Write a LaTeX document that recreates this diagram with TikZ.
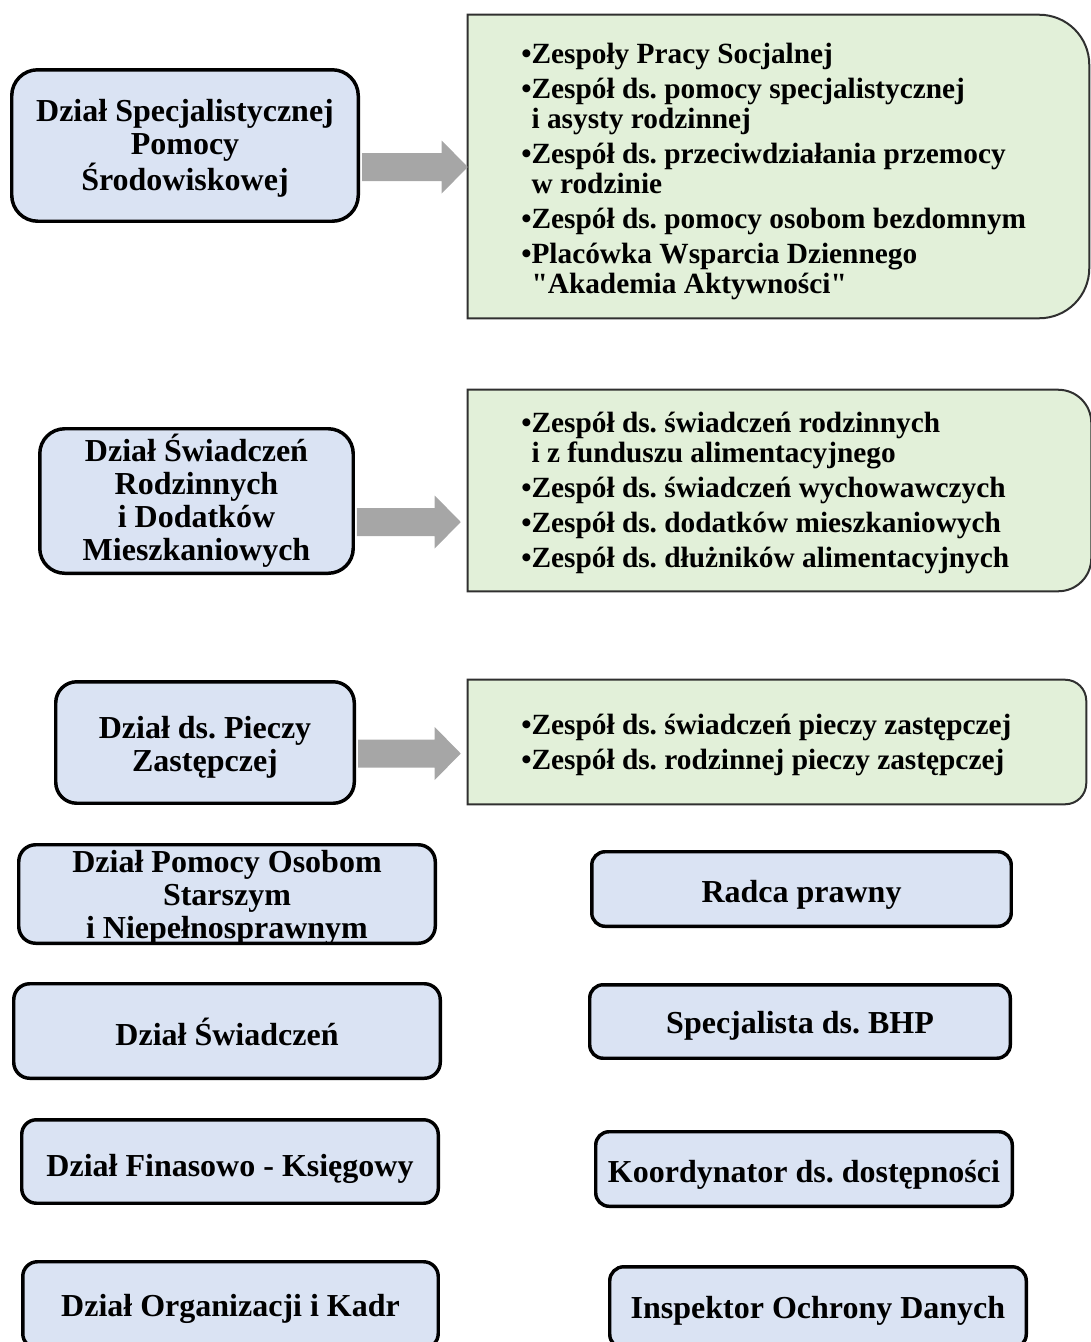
\documentclass[tikz,border=0pt]{standalone}
\usepackage{fontspec}
\setmainfont{Liberation Serif}
\usetikzlibrary{calc}
\definecolor{boxblue}{HTML}{DAE3F3}
\definecolor{boxgreen}{HTML}{E2F0D9}
\definecolor{arrowgray}{HTML}{A6A6A6}
\definecolor{greenline}{HTML}{303030}
\newcommand{\dq}{\XeTeXglyph\XeTeXcharglyph34\relax}
\begin{document}
\frenchspacing
\begin{tikzpicture}[x=0.75pt,y=-0.75pt,
  deptbox/.style={draw=black, line width=2.6pt, fill=boxblue, inner sep=0pt},
  depttext/.style={inner sep=0pt, align=center,
    font=\fontsize{24}{24.75}\selectfont\bfseries\frenchspacing},
  greenarea/.style={draw=none, inner sep=0pt},
  greenframe/.style={draw=greenline, line width=1.5pt, fill=boxgreen},
  listtext/.style={anchor=base west, inner sep=0pt, align=left,
    font=\fontsize{22}{22.5}\selectfont\bfseries\frenchspacing},
  blockarrow/.style={fill=arrowgray}]
\useasboundingbox (0,0) rectangle (1091,1342);

% green areas (frames)
\node[greenarea, minimum width=465.75pt, minimum height=227.25pt] (g1) at (778.5,166.5) {};
\node[greenarea, minimum width=467.25pt, minimum height=150.75pt] (g2) at (779.5,490.5) {};
\node[greenarea, minimum width=463.5pt, minimum height=93pt] (g3) at (777,742) {};

\draw[greenframe] (g1.north west) -- ($(g1.north east)+(-37.5pt,0pt)$)
  arc[start angle=90, end angle=0, radius=37.5pt] -- ($(g1.south east)+(0pt,37.5pt)$)
  arc[start angle=0, end angle=-90, radius=37.5pt] -- (g1.south west) -- cycle;
\draw[greenframe] (g2.north west) -- ($(g2.north east)+(-24.75pt,0pt)$)
  arc[start angle=90, end angle=0, radius=24.75pt] -- ($(g2.south east)+(0pt,24.75pt)$)
  arc[start angle=0, end angle=-90, radius=24.75pt] -- (g2.south west) -- cycle;
\draw[greenframe] (g3.north west) -- ($(g3.north east)+(-15.75pt,0pt)$)
  arc[start angle=90, end angle=0, radius=15.75pt] -- ($(g3.south east)+(0pt,15.75pt)$)
  arc[start angle=0, end angle=-90, radius=15.75pt] -- (g3.south west) -- cycle;

% list texts (anchored at the baseline of the last line)
\node[listtext] (g1t) at (521,293) {%
•Zespoły Pracy Socjalnej\\[3.75pt]
•Zespół ds. pomocy specjalistycznej\\
\phantom{•}i asysty rodzinnej\\[3.75pt]
•Zespół ds. przeciwdziałania przemocy\\
\phantom{•}w rodzinie\\[3.75pt]
•Zespół ds. pomocy osobom bezdomnym\\[3.75pt]
•Placówka Wsparcia Dziennego\\
\phantom{•}\dq Akademia Aktywności\dq};
\node[listtext] (g2t) at (521,567) {%
•Zespół ds. świadczeń rodzinnych\\
\phantom{•}i z funduszu alimentacyjnego\\[3.75pt]
•Zespół ds. świadczeń wychowawczych\\[3.75pt]
•Zespół ds. dodatków mieszkaniowych\\[3.75pt]
•Zespół ds. dłużników alimentacyjnych};
\node[listtext] (g3t) at (521,769) {%
•Zespół ds. świadczeń pieczy zastępczej\\[3.75pt]
•Zespół ds. rodzinnej pieczy zastępczej};

% left column departments
\node[deptbox, rounded corners=19.5pt, minimum width=259.9pt, minimum height=113.6pt] (b1) at (185,145.5) {};
\node[depttext] (b1t) at ($(b1.center)+(0,3)$) {Dział Specjalistycznej\\Pomocy\\Środowiskowej};
\node[deptbox, rounded corners=18.75pt, minimum width=235.1pt, minimum height=108.4pt] (b2) at (196.5,501) {};
\node[depttext] (b2t) at (b2.center) {Dział Świadczeń\\Rodzinnych\\i Dodatków\\Mieszkaniowych};
\node[deptbox, rounded corners=15.75pt, minimum width=223.9pt, minimum height=91.1pt] (b3) at (205,742.5) {};
\node[depttext] (b3t) at ($(b3.center)+(0,5)$) {Dział ds. Pieczy\\Zastępczej};
\node[deptbox, rounded corners=12.75pt, minimum width=312.4pt, minimum height=73.9pt] (b4) at (227,894) {};
\node[depttext] (b4t) at ($(b4.center)+(0,4)$) {Dział Pomocy Osobom\\Starszym\\i Niepełnosprawnym};
\node[deptbox, rounded corners=12pt, minimum width=319.9pt, minimum height=70.9pt] (b5) at (227,1031) {};
\node[depttext] (b5t) at ($(b5.center)+(0,1)$) {Dział Świadczeń};
\node[deptbox, rounded corners=11pt, minimum width=312.4pt, minimum height=62.6pt] (b6) at (230,1161.5) {};
\node[depttext] (b6t) at ($(b6.center)+(0,7)$) {Dział Finasowo - Księgowy};
\node[deptbox, rounded corners=11pt, minimum width=311.6pt, minimum height=64.9pt] (b7) at (230.5,1305) {};
\node[depttext] (b7t) at ($(b7.center)+(0,4)$) {Dział Organizacji i Kadr};

% right column
\node[deptbox, rounded corners=10pt, minimum width=314.6pt, minimum height=55.9pt] (r1) at (801.5,889) {};
\node[depttext] (r1t) at ($(r1.center)+(0,6)$) {Radca prawny};
\node[deptbox, rounded corners=10pt, minimum width=315.4pt, minimum height=55.1pt] (r2) at (800,1021.5) {};
\node[depttext] (r2t) at ($(r2.center)+(0,4)$) {Specjalista ds. BHP};
\node[deptbox, rounded corners=10pt, minimum width=312.4pt, minimum height=55.9pt] (r3) at (804,1169) {};
\node[depttext] (r3t) at ($(r3.center)+(0,6)$) {Koordynator ds. dostępności};
\node[deptbox, rounded corners=10.5pt, minimum width=312.4pt, minimum height=61.1pt] (r4) at (818,1307.5) {};
\node[depttext] (r4t) at ($(r4.center)+(0,3)$) {Inspektor Ochrony Danych};

% block arrows
\coordinate (a1s) at ($(b1.east)+(2,21.5)$);
\coordinate (a1t) at ($(g1.west |- a1s)$);
\coordinate (a2s) at ($(b2.east)+(2,21)$);
\coordinate (a2t) at ($(g2.west |- a2s)+(-7,0)$);
\coordinate (a3s) at ($(b3.east)+(2,11)$);
\coordinate (a3t) at ($(g3.west |- a3s)+(-7,0)$);
\foreach \s/\t in {a1s/a1t, a2s/a2t, a3s/a3t}{
  \fill[blockarrow] ($(\s)+(0,-14)$) -- ($(\t)+(-26,-14)$) -- ($(\t)+(-26,-26.5)$)
    -- (\t) -- ($(\t)+(-26,26.5)$) -- ($(\t)+(-26,14)$) -- ($(\s)+(0,14)$) -- cycle;
}
\end{tikzpicture}
\end{document}
